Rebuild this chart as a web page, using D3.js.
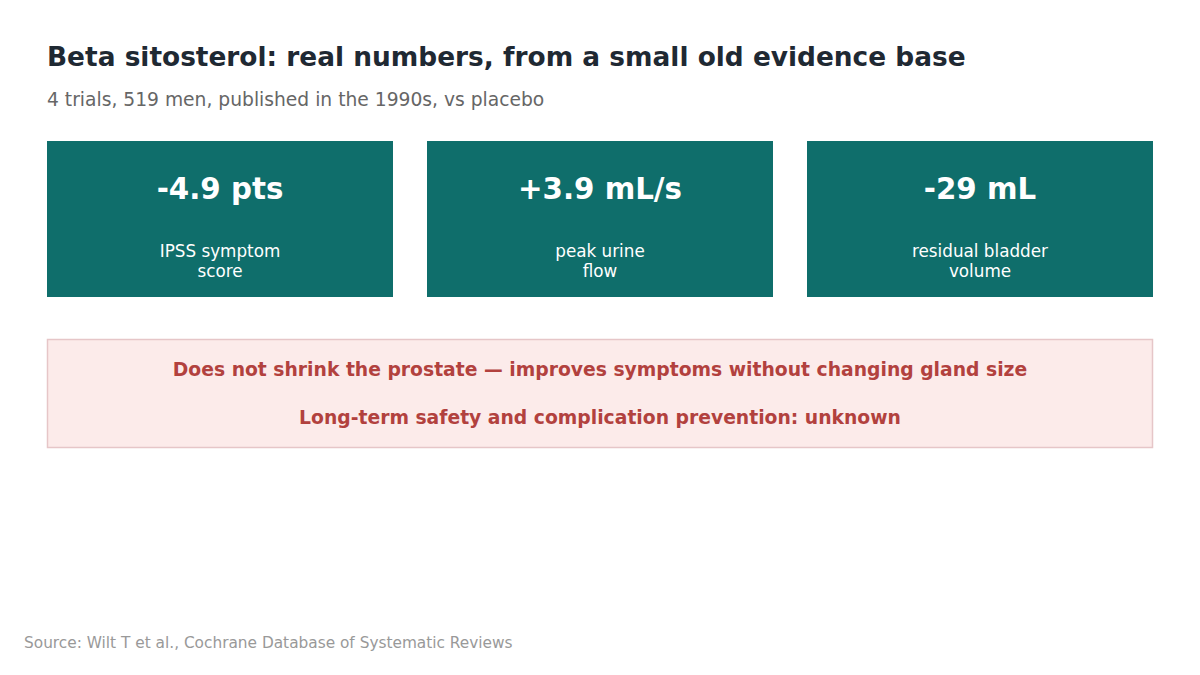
<!DOCTYPE html>
<html>
<head>
<meta charset="utf-8">
<script src="https://cdn.jsdelivr.net/npm/d3@7"></script>
<style>
  body { margin: 0; background: #fff; }
  svg text { font-family: "DejaVu Sans", sans-serif; }
</style>
</head>
<body>
<div id="chart"></div>
<script>
// stat cards
const statValues = ["-4.9 pts", "+3.9 mL/s", "-29 mL"];
const statLabels = [["IPSS symptom", "score"], ["peak urine", "flow"], ["residual bladder", "volume"]];
// caveats
const caveats = [
    "Does not shrink the prostate \u2014 improves symptoms without changing gland size",
    "Long-term safety and complication prevention: unknown"
];
const titleText = "Beta sitosterol: real numbers, from a small old evidence base";
const subtitleText = "4 trials, 519 men, published in the 1990s, vs placebo";
const sourceText = "Source: Wilt T et al., Cochrane Database of Systematic Reviews";

let width = 1200, height = 675;
let left = 47, right = 1153;

let svg = d3.select("#chart").append("svg")
    .attr("width", width)
    .attr("height", height);

svg.append("text")
    .attr("x", left).attr("y", 66)
    .attr("font-size", 26.4).attr("font-weight", "bold")
    .attr("fill", "#1f2933")
    .text(titleText);

svg.append("text")
    .attr("x", left).attr("y", 105.5)
    .attr("font-size", 18.7)
    .attr("fill", "#666")
    .text(subtitleText);

// card positions
let x = d3.scaleBand()
    .domain(d3.range(statValues.length))
    .range([left, right])
    .paddingInner(34 / 380)
    .paddingOuter(0);

let cards = svg.selectAll("g.card")
    .data(statValues)
    .enter()
    .append("g")
    .attr("class", "card")
    .attr("transform", (d, i) => "translate(" + x(i) + ",141)");

cards.append("rect")
    .attr("width", x.bandwidth())
    .attr("height", 156)
    .attr("fill", "#0f6e6b");

cards.append("text")
    .attr("x", x.bandwidth() / 2).attr("y", 58)
    .attr("text-anchor", "middle")
    .attr("font-size", 29.3).attr("font-weight", "bold")
    .attr("fill", "#fff")
    .text(d => d);

cards.each(function(d, i) {
    d3.select(this).selectAll("text.lab")
        .data(statLabels[i])
        .enter()
        .append("text")
        .attr("class", "lab")
        .attr("x", x.bandwidth() / 2)
        .attr("y", (t, j) => 115.5 + j * 20)
        .attr("text-anchor", "middle")
        .attr("font-size", 16.8)
        .attr("fill", "#fff")
        .text(t => t);
});

// caveat box
svg.append("rect")
    .attr("x", left + 0.5).attr("y", 339.5)
    .attr("width", right - left - 1).attr("height", 108)
    .attr("fill", "#fcebea")
    .attr("stroke", "#e6c6c8")
    .attr("stroke-width", 1.5);

svg.selectAll("text.caveat")
    .data(caveats)
    .enter()
    .append("text")
    .attr("class", "caveat")
    .attr("x", (left + right) / 2)
    .attr("y", (d, i) => 375.5 + i * 48)
    .attr("text-anchor", "middle")
    .attr("font-size", 18.75).attr("font-weight", "bold")
    .attr("fill", "#b2413e")
    .text(d => d);

svg.append("text")
    .attr("x", 24).attr("y", 648)
    .attr("font-size", 15.35)
    .attr("fill", "#999")
    .text(sourceText);
</script>
</body>
</html>
